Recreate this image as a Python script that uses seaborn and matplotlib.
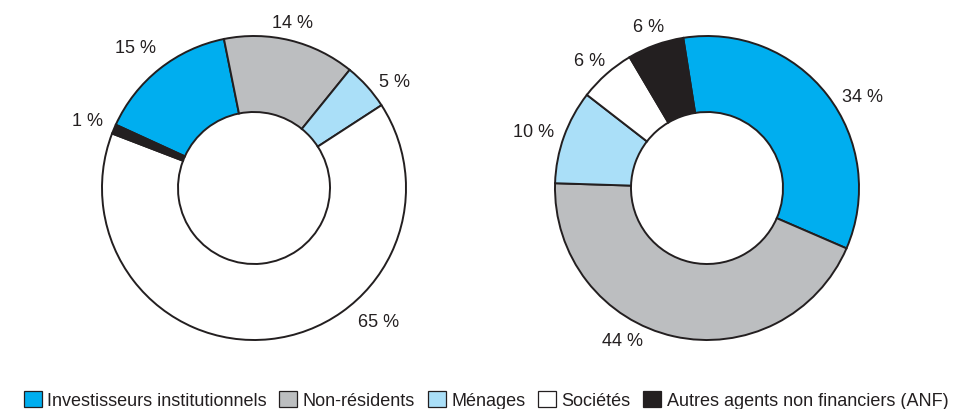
import numpy as np
import matplotlib
matplotlib.use("Agg")
import matplotlib.pyplot as plt
import seaborn as sns
from matplotlib.patches import Patch

categories = ["Investisseurs institutionnels", "Non-résidents", "Ménages", "Sociétés",
              "Autres agents non financiers (ANF)"]
left_values = [15, 14, 5, 65, 1]
right_values = [34, 44, 10, 6, 6]
left_labels = ["15 %", "14 %", "5 %", "65 %", "1 %"]
right_labels = ["34 %", "44 %", "10 %", "6 %", "6 %"]

sns.set_theme(style="white")
plt.rcParams['font.family'] = ['Liberation Sans', 'DejaVu Sans']

colors = ["#00AEEF", "#BCBEC0", "#AADFF8", "#FFFFFF", "#231F20"]
edge = "#231F20"
txt = "#231F20"

W, H = 958, 410
fig = plt.figure(figsize=(W / 100, H / 100), dpi=100)
R = 152.0
half = 185.0


def make_ax(cx, cy):
    ax = fig.add_axes([(cx - half) / W, (H - cy - half) / H, 2 * half / W, 2 * half / H])
    return ax


def draw(ax, values, labels, start_north, label_angle_override, label_r):
    ax.pie(values, colors=colors, startangle=90 - start_north, counterclock=False,
           radius=1.0, wedgeprops=dict(width=0.5, edgecolor=edge, linewidth=1.4))
    ax.set_xlim(-half / R, half / R)
    ax.set_ylim(-half / R, half / R)
    ax.set_aspect("equal")
    ax.axis("off")
    cum = start_north
    for i, (v, lab) in enumerate(zip(values, labels)):
        span = v / sum(values) * 360
        mid = cum + span / 2
        cum += span
        ang = label_angle_override.get(i, mid)
        r = label_r.get(i, 1.17)
        t = np.deg2rad(ang)
        ax.text(r * np.sin(t), r * np.cos(t), lab, ha="center", va="center",
                fontsize=13, color=txt)


axL = make_ax(254, 189)
draw(axL, left_values, left_labels, -65.4,
     {0: -40, 1: 13, 2: 53, 3: 137, 4: -68}, {0: 1.21, 1: 1.12, 2: 1.16, 3: 1.2, 4: 1.18})

axR = make_ax(707, 189)
draw(axR, right_values, right_labels, -9.0,
     {0: 59.5, 1: 209, 2: -72, 3: -42.6, 4: -19.8}, {0: 1.19, 1: 1.15, 2: 1.2, 3: 1.14, 4: 1.13})

handles = [Patch(facecolor=c, edgecolor=edge, linewidth=0.9) for c in colors]
fig.legend(handles, categories, loc="center", bbox_to_anchor=(486 / W, 1 - 401 / H),
           ncol=5, frameon=False, fontsize=13, handlelength=1.0, handleheight=1.0,
           handletextpad=0.3, columnspacing=0.7, labelcolor=txt, borderpad=0)

fig.savefig("out.png", dpi=100, facecolor="white")
